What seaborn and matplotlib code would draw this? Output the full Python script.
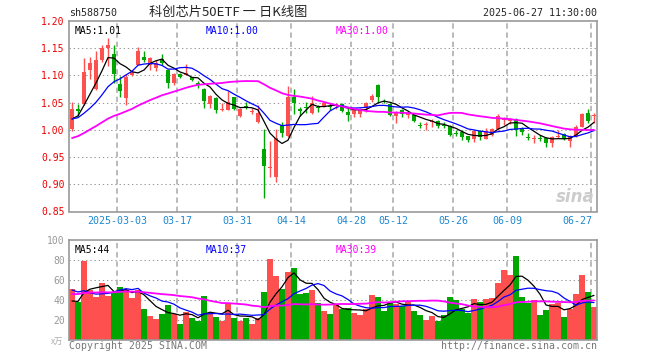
"""
588750 daily K-line chart (Sina finance style)
"""

import numpy as np
import matplotlib
matplotlib.use('Agg')
import matplotlib.pyplot as plt
import seaborn as sns
import pandas as pd

# trading days shown, 2025-02-19 .. 2025-06-27
days_feb = [19, 20, 21, 24, 25, 26, 27, 28]
days_mar = [3, 4, 5, 6, 7, 10, 11, 12, 13, 14, 17, 18, 19, 20, 21, 24, 25, 26, 27, 28, 31]
days_apr = [1, 2, 3, 7, 8, 9, 10, 11, 14, 15, 16, 17, 18, 21, 22, 23, 24, 25, 28, 29, 30]
days_may = [6, 7, 8, 9, 12, 13, 14, 15, 16, 19, 20, 21, 22, 23, 26, 27, 28, 29, 30]
days_jun = [3, 4, 5, 6, 9, 10, 11, 12, 13, 16, 17, 18, 19, 20, 23, 24, 25, 26, 27]
dates = ([f'2025-02-{d:02d}' for d in days_feb] + [f'2025-03-{d:02d}' for d in days_mar]
         + [f'2025-04-{d:02d}' for d in days_apr] + [f'2025-05-{d:02d}' for d in days_may]
         + [f'2025-06-{d:02d}' for d in days_jun])

open_px = [1.001, 1.038, 1.047, 1.110, 1.075, 1.128, 1.151, 1.139, 1.085, 1.059,
           1.101, 1.120, 1.134, 1.119, 1.113, 1.131, 1.110, 1.087, 1.103, 1.101,
           1.097, 1.086, 1.075, 1.048, 1.058, 1.036, 1.037, 1.060, 1.026, 1.044,
           1.033, 1.014, 0.965, 0.930, 0.913, 1.009, 0.988, 1.061, 1.038, 1.042,
           1.031, 1.042, 1.043, 1.044, 1.045, 1.047, 1.033, 1.030, 1.030, 1.040,
           1.054, 1.083, 1.053, 1.047, 1.025, 1.037, 1.028, 1.028, 1.009, 1.010,
           1.014, 1.017, 1.009, 1.008, 0.995, 0.996, 0.988, 0.984, 0.997, 0.984,
           0.991, 1.001, 1.019, 1.017, 1.020, 1.002, 0.987, 0.984, 0.985, 0.985,
           0.976, 0.987, 0.992, 0.979, 0.988, 1.006, 1.031, 1.026]
high_px = [1.052, 1.048, 1.132, 1.134, 1.145, 1.155, 1.169, 1.155, 1.099, 1.102,
           1.110, 1.153, 1.144, 1.134, 1.128, 1.139, 1.112, 1.104, 1.104, 1.121,
           1.098, 1.089, 1.077, 1.064, 1.060, 1.049, 1.071, 1.061, 1.040, 1.051,
           1.040, 1.045, 1.001, 0.979, 1.002, 1.014, 1.081, 1.075, 1.042, 1.052,
           1.063, 1.046, 1.052, 1.050, 1.050, 1.049, 1.040, 1.040, 1.041, 1.052,
           1.065, 1.084, 1.057, 1.049, 1.035, 1.038, 1.035, 1.030, 1.014, 1.014,
           1.020, 1.019, 1.014, 1.009, 0.999, 0.999, 0.989, 1.000, 0.999, 1.003,
           1.003, 1.029, 1.023, 1.022, 1.022, 1.005, 0.994, 0.990, 0.990, 0.986,
           0.988, 0.999, 0.994, 0.991, 1.009, 1.031, 1.039, 1.031]
low_px = [0.998, 1.026, 1.045, 1.094, 1.074, 1.125, 1.117, 1.086, 1.060, 1.045,
          1.099, 1.119, 1.125, 1.110, 1.108, 1.120, 1.077, 1.083, 1.095, 1.100,
          1.089, 1.077, 1.040, 1.040, 1.031, 1.034, 1.036, 1.036, 1.023, 1.039,
          1.030, 1.012, 0.874, 0.914, 0.905, 0.986, 0.987, 1.030, 1.025, 1.031,
          1.030, 1.032, 1.042, 1.037, 1.038, 1.033, 1.017, 1.023, 1.023, 1.033,
          1.052, 1.050, 1.049, 1.025, 1.012, 1.023, 1.022, 1.014, 1.003, 1.000,
          1.006, 1.004, 1.003, 0.989, 0.988, 0.982, 0.977, 0.977, 0.982, 0.983,
          0.989, 1.000, 1.009, 1.011, 0.989, 0.991, 0.982, 0.976, 0.979, 0.969,
          0.968, 0.985, 0.982, 0.969, 0.987, 1.005, 1.012, 1.012]
close_px = [1.039, 1.034, 1.107, 1.123, 1.128, 1.151, 1.155, 1.102, 1.072, 1.098,
            1.107, 1.144, 1.129, 1.132, 1.123, 1.122, 1.087, 1.103, 1.097, 1.104,
            1.091, 1.083, 1.053, 1.063, 1.037, 1.039, 1.051, 1.038, 1.039, 1.040,
            1.035, 1.031, 0.933, 0.931, 0.985, 0.995, 1.061, 1.050, 1.034, 1.041,
            1.049, 1.040, 1.050, 1.042, 1.047, 1.034, 1.027, 1.036, 1.039, 1.050,
            1.063, 1.060, 1.052, 1.028, 1.032, 1.030, 1.031, 1.016, 1.008, 1.011,
            1.015, 1.008, 1.008, 0.990, 0.993, 0.986, 0.982, 0.998, 0.986, 0.997,
            1.001, 1.025, 1.020, 1.020, 1.000, 0.996, 0.986, 0.985, 0.984, 0.976,
            0.986, 0.988, 0.984, 0.988, 1.006, 1.030, 1.017, 1.028]
# volume, unit 万手
volume = [51, 38, 79, 50, 43, 57, 44, 48, 53, 50, 42, 50, 31, 24, 21, 26, 35, 26, 16, 28,
          22, 19, 44, 26, 23, 19, 37, 22, 19, 22, 16, 22, 48, 81, 64, 51, 68, 72, 46, 47,
          50, 37, 29, 26, 35, 31, 32, 27, 25, 31, 45, 43, 29, 37, 36, 34, 39, 29, 25, 20,
          24, 19, 25, 43, 40, 31, 27, 41, 38, 41, 42, 57, 70, 65, 84, 43, 37, 40, 25, 30,
          36, 37, 23, 31, 46, 65, 48, 33]

# 29 sessions before the window, only used to warm up the moving averages
prev_close = [0.930, 0.935, 0.928, 0.940, 0.945, 0.952, 0.948, 0.958, 0.962, 0.970,
              0.968, 0.975, 0.980, 0.993, 0.985, 0.990, 0.998, 0.992, 1.000, 1.000,
              1.010, 1.025, 1.030, 1.020, 1.015, 1.005, 1.010, 1.020, 1.026]
prev_volume = [40, 45, 38, 42, 50, 47, 44, 41, 39, 48, 52, 46, 43, 40, 45, 49, 42, 44, 43,
               42, 58, 66, 72, 55, 54, 40, 35, 33, 36]

tick_dates = ['2025-03-03', '2025-03-17', '2025-03-31', '2025-04-14', '2025-04-28',
              '2025-05-12', '2025-05-26', '2025-06-09', '2025-06-27']

RED = '#ff5050'
GREEN = '#00a600'
MONO = 'DejaVu Sans Mono'
CJK = ['Noto Sans CJK SC', 'DejaVu Sans']

sns.set_style('white')
plt.rcParams['font.family'] = [MONO, 'Noto Sans CJK SC']

n = len(dates)
x = np.arange(n)
o = np.array(open_px)
h = np.array(high_px)
l = np.array(low_px)
c = np.array(close_px)
up = c >= o
colors = np.where(up, RED, GREEN)

pre = len(prev_close)
close_all = pd.Series(prev_close + close_px)
vol_all = pd.Series(prev_volume + volume)
ma_px = {k: close_all.rolling(k).mean().to_numpy()[pre:] for k in (5, 10, 30)}
ma_vol = {k: vol_all.rolling(k).mean().to_numpy()[pre:] for k in (5, 10, 30)}
ma_colors = {5: 'black', 10: '#0000ff', 30: '#ff00ff'}
ma_widths = {5: 0.9, 10: 0.9, 30: 1.3}

W, H = 660, 360
fig = plt.figure(figsize=(W / 100, H / 100), dpi=100)
ax_p = fig.add_axes([69 / W, 1 - 211.5 / H, 528 / W, 190.5 / H])
ax_v = fig.add_axes([69 / W, 1 - 340 / H, 528 / W, 100 / H])

tick_idx = [dates.index(d) for d in tick_dates]
price_ticks = [0.85, 0.90, 0.95, 1.00, 1.05, 1.10, 1.15, 1.20]
vol_ticks = [20, 40, 60, 80, 100]

# grid lines: horizontal dotted, vertical dashed at the date ticks
for ax, levels in ((ax_p, price_ticks[1:-1]), (ax_v, vol_ticks[:-1])):
    for t in levels:
        ax.axhline(t, color='#999999', lw=0.75, dashes=[1.3, 2.7], zorder=0.5)
    for i in tick_idx:
        ax.axvline(i - 0.45, color='#a8a8a8', lw=1.1, dashes=[3.5, 2.5], zorder=0.5)

# price pane: candles
ax_p.vlines(x, l, h, colors=colors, lw=1.0, zorder=2)
body = np.abs(c - o)
min_body = 0.0018
bottom = np.where(body < min_body, (o + c) / 2 - min_body / 2, np.minimum(o, c))
ax_p.bar(x, np.maximum(body, min_body), bottom=bottom, width=0.8, color=colors,
         linewidth=0, zorder=3)
for k in (5, 10, 30):
    sns.lineplot(x=x, y=ma_px[k], color=ma_colors[k], lw=ma_widths[k], ax=ax_p, zorder=4)

ax_p.set_ylim(0.85, 1.20)
ax_p.set_yticks(price_ticks)
ax_p.set_yticklabels([f'{t:.2f}' for t in price_ticks], color='#ee0000')

ax_p.text(0.01, 0.975, f'MA5:{ma_px[5][-1]:.2f}', transform=ax_p.transAxes,
          color='black', fontsize=7, va='top')
ax_p.text(0.258, 0.975, f'MA10:{ma_px[10][-1]:.2f}', transform=ax_p.transAxes,
          color='#0000ff', fontsize=7, va='top')
ax_p.text(0.505, 0.975, f'MA30:{ma_px[30][-1]:.2f}', transform=ax_p.transAxes,
          color='#ff00ff', fontsize=7, va='top')
ax_p.text(0.995, 0.03, 'sina', transform=ax_p.transAxes, color='#cccccc',
          fontsize=12, fontweight='bold', style='italic', ha='right', va='bottom',
          family='DejaVu Sans')

# date labels under the price pane
for j, i in enumerate(tick_idx):
    label = tick_dates[j] if j == 0 else tick_dates[j][5:]
    ha = 'right' if j == len(tick_idx) - 1 else 'center'
    xpos = i - 0.3 if ha == 'right' else i - 0.45
    ax_p.text(xpos, -0.05, label, transform=ax_p.get_xaxis_transform(),
              ha=ha, va='center', color='#1e88d0', fontsize=7.2)

# volume pane
df_v = pd.DataFrame({'i': x, 'vol': volume, 'dir': np.where(up, 'up', 'down')})
sns.barplot(data=df_v, x='i', y='vol', hue='dir', palette={'up': RED, 'down': GREEN},
            dodge=False, width=0.85, saturation=1, linewidth=0,
            errorbar=None, legend=False, ax=ax_v, zorder=2)
for k in (5, 10, 30):
    sns.lineplot(x=x, y=ma_vol[k], color=ma_colors[k], lw=ma_widths[k], ax=ax_v, zorder=4)
ax_v.set_xlabel('')
ax_v.set_ylabel('')
ax_v.set_ylim(0, 100)
ax_v.set_yticks(vol_ticks)
ax_v.set_yticklabels([str(t) for t in vol_ticks], color='#999999')

ax_v.text(0.01, 0.95, f'MA5:{int(ma_vol[5][-1])}', transform=ax_v.transAxes,
          color='black', fontsize=7, va='top')
ax_v.text(0.258, 0.95, f'MA10:{int(ma_vol[10][-1])}', transform=ax_v.transAxes,
          color='#0000ff', fontsize=7, va='top')
ax_v.text(0.505, 0.95, f'MA30:{int(ma_vol[30][-1])}', transform=ax_v.transAxes,
          color='#ff00ff', fontsize=7, va='top')

for ax in (ax_p, ax_v):
    for sp in ax.spines.values():
        sp.set_color('#999999')
        sp.set_linewidth(1.2)
    ax.set_xlim(-0.5, n - 0.5)
    ax.set_xticks([])
    ax.tick_params(axis='y', length=0, pad=3, labelsize=7)

# header and footer
fig.text(69 / W, 1 - 12.5 / H, 'sh588750', fontsize=7.2, va='center', ha='left')
fig.text(149 / W, 1 - 12.5 / H, '科创芯片50ETF 一 日K线图', fontsize=9.5, va='center',
         ha='left', family=CJK)
fig.text(597 / W, 1 - 12.5 / H, '2025-06-27 11:30:00', fontsize=7.2, va='center', ha='right')
fig.text(63 / W, 1 - 341 / H, 'x万', fontsize=6, va='center', ha='right', color='#aaaaaa',
         family=CJK)
fig.text(69 / W, 1 - 346 / H, 'Copyright 2025 SINA.COM', fontsize=7.1, va='center',
         ha='left', color='#777777')
fig.text(597 / W, 1 - 346 / H, 'http://finance.sina.com.cn', fontsize=7.1, va='center',
         ha='right', color='#777777')

fig.savefig('out.png', dpi=100)
plt.close(fig)
